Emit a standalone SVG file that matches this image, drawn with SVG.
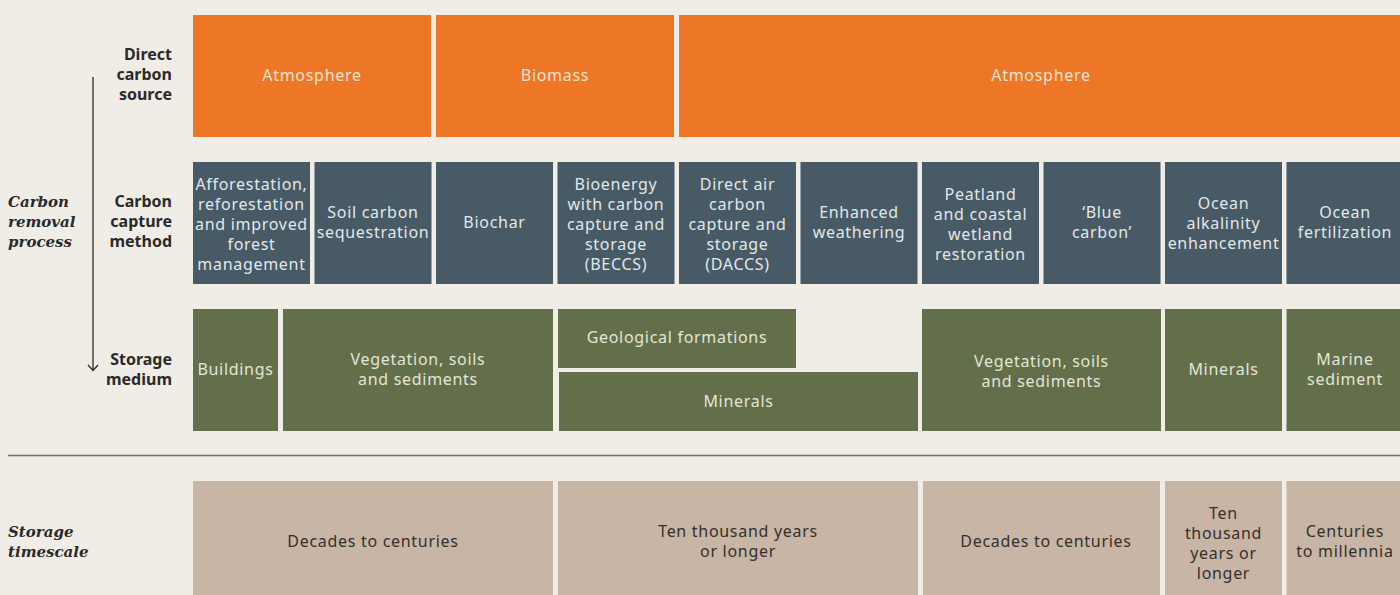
<svg xmlns="http://www.w3.org/2000/svg" width="1400" height="595" viewBox="0 0 1400 595">
<style>
.bg{fill:#f0ede7}
.src{fill:#ee7727}
.cap{fill:#475a66}
.med{fill:#626f4a}
.ts{fill:#c8b5a5}
text{font-family:"Noto Sans","Liberation Sans",sans-serif;font-size:16px;text-anchor:middle}
.ts-src,.tc,.tm,.tt{letter-spacing:0.7px}
.ts-src{fill:#fbe3d2}
.tc{fill:#e3e7e8}
.tm{fill:#e1e6d6}
.tt{fill:#35302b}
.lab{font-weight:bold;fill:#2a2a2a;text-anchor:end}
.sec{font-family:"DejaVu Serif","Liberation Serif",serif;font-weight:bold;font-style:italic;fill:#2a2a2a;text-anchor:start;font-size:15px}
</style>
<rect class="bg" x="0" y="0" width="1400" height="595"/>
<g id="labels">
<text class="lab" x="172" y="60">Direct</text>
<text class="lab" x="172" y="80">carbon</text>
<text class="lab" x="172" y="100">source</text>
<text class="lab" x="172" y="207">Carbon</text>
<text class="lab" x="172" y="227">capture</text>
<text class="lab" x="172" y="247">method</text>
<text class="lab" x="172" y="365">Storage</text>
<text class="lab" x="172" y="385">medium</text>
<text class="sec" x="8" y="207">Carbon</text>
<text class="sec" x="8" y="227">removal</text>
<text class="sec" x="8" y="247">process</text>
<text class="sec" x="8" y="537">Storage</text>
<text class="sec" x="8" y="557">timescale</text>
</g>
<g id="connectors" fill="none" stroke="#2a2a2a" stroke-width="1.3">
<line x1="93" y1="77" x2="93" y2="370"/>
<polyline points="88,365 93,370.5 98,365"/>
<line x1="8" y1="455.5" x2="1400" y2="455.5" stroke="#6e6d66" stroke-width="1.6"/>
</g>
<g id="src-atm1"><rect class="src" x="193" y="15" width="238" height="122"/><text class="ts-src" x="312" y="81">Atmosphere</text></g>
<g id="src-bio"><rect class="src" x="436" y="15" width="238" height="122"/><text class="ts-src" x="555" y="81">Biomass</text></g>
<g id="src-atm2"><rect class="src" x="679" y="15" width="721" height="122"/><text class="ts-src" x="1041" y="81">Atmosphere</text></g>

<g id="cap-affo"><rect class="cap" x="193" y="162" width="117" height="122"/><text class="tc"><tspan x="251.5" y="190">Afforestation,</tspan><tspan x="251.5" y="210">reforestation</tspan><tspan x="251.5" y="230">and improved</tspan><tspan x="251.5" y="250">forest</tspan><tspan x="251.5" y="270">management</tspan></text></g>
<g id="cap-soil"><rect class="cap" x="314.5" y="162" width="117" height="122"/><text class="tc"><tspan x="373" y="218">Soil carbon</tspan><tspan x="373" y="238">sequestration</tspan></text></g>
<g id="cap-biochar"><rect class="cap" x="436" y="162" width="117" height="122"/><text class="tc" x="494.5" y="228">Biochar</text></g>
<g id="cap-beccs"><rect class="cap" x="557.5" y="162" width="117" height="122"/><text class="tc"><tspan x="616" y="190">Bioenergy</tspan><tspan x="616" y="210">with carbon</tspan><tspan x="616" y="230">capture and</tspan><tspan x="616" y="250">storage</tspan><tspan x="616" y="270">(BECCS)</tspan></text></g>
<g id="cap-daccs"><rect class="cap" x="679" y="162" width="117" height="122"/><text class="tc"><tspan x="737.5" y="190">Direct air</tspan><tspan x="737.5" y="210">carbon</tspan><tspan x="737.5" y="230">capture and</tspan><tspan x="737.5" y="250">storage</tspan><tspan x="737.5" y="270">(DACCS)</tspan></text></g>
<g id="cap-ew"><rect class="cap" x="800.5" y="162" width="117" height="122"/><text class="tc"><tspan x="859" y="218">Enhanced</tspan><tspan x="859" y="238">weathering</tspan></text></g>
<g id="cap-peat"><rect class="cap" x="922" y="162" width="117" height="122"/><text class="tc"><tspan x="980.5" y="200">Peatland</tspan><tspan x="980.5" y="220">and coastal</tspan><tspan x="980.5" y="240">wetland</tspan><tspan x="980.5" y="260">restoration</tspan></text></g>
<g id="cap-blue"><rect class="cap" x="1043.5" y="162" width="117" height="122"/><text class="tc"><tspan x="1102" y="218">‘Blue</tspan><tspan x="1102" y="238">carbon’</tspan></text></g>
<g id="cap-oae"><rect class="cap" x="1165" y="162" width="117" height="122"/><text class="tc"><tspan x="1223.5" y="209">Ocean</tspan><tspan x="1223.5" y="229">alkalinity</tspan><tspan x="1223.5" y="249">enhancement</tspan></text></g>
<g id="cap-of"><rect class="cap" x="1286.5" y="162" width="117" height="122"/><text class="tc"><tspan x="1345" y="218">Ocean</tspan><tspan x="1345" y="238">fertilization</tspan></text></g>

<g id="med-build"><rect class="med" x="193" y="309" width="85" height="122"/><text class="tm" x="235.5" y="375">Buildings</text></g>
<g id="med-veg1"><rect class="med" x="283" y="309" width="270" height="122"/><text class="tm"><tspan x="418" y="365">Vegetation, soils</tspan><tspan x="418" y="385">and sediments</tspan></text></g>
<g id="med-geo"><rect class="med" x="558" y="309" width="238" height="59"/><text class="tm" x="677" y="343">Geological formations</text></g>
<g id="med-min1"><rect class="med" x="559" y="372" width="359" height="59"/><text class="tm" x="738.5" y="407">Minerals</text></g>
<g id="med-veg2"><rect class="med" x="922" y="309" width="239" height="122"/><text class="tm"><tspan x="1041.5" y="367">Vegetation, soils</tspan><tspan x="1041.5" y="387">and sediments</tspan></text></g>
<g id="med-min2"><rect class="med" x="1165" y="309" width="117" height="122"/><text class="tm" x="1223.5" y="375">Minerals</text></g>
<g id="med-marine"><rect class="med" x="1286.5" y="309" width="117" height="122"/><text class="tm"><tspan x="1345" y="365">Marine</tspan><tspan x="1345" y="385">sediment</tspan></text></g>

<g id="ts-dec1"><rect class="ts" x="193" y="481" width="360" height="120"/><text class="tt" x="373" y="547">Decades to centuries</text></g>
<g id="ts-ten1"><rect class="ts" x="558" y="481" width="360" height="120"/><text class="tt"><tspan x="738" y="537">Ten thousand years</tspan><tspan x="738" y="557">or longer</tspan></text></g>
<g id="ts-dec2"><rect class="ts" x="923" y="481" width="237" height="120"/><text class="tt" x="1046" y="547">Decades to centuries</text></g>
<g id="ts-ten2"><rect class="ts" x="1165" y="481" width="117" height="120"/><text class="tt"><tspan x="1223.5" y="519">Ten</tspan><tspan x="1223.5" y="539">thousand</tspan><tspan x="1223.5" y="559">years or</tspan><tspan x="1223.5" y="579">longer</tspan></text></g>
<g id="ts-cent"><rect class="ts" x="1286.5" y="481" width="117" height="120"/><text class="tt"><tspan x="1345" y="537">Centuries</tspan><tspan x="1345" y="557">to millennia</tspan></text></g>
</svg>
